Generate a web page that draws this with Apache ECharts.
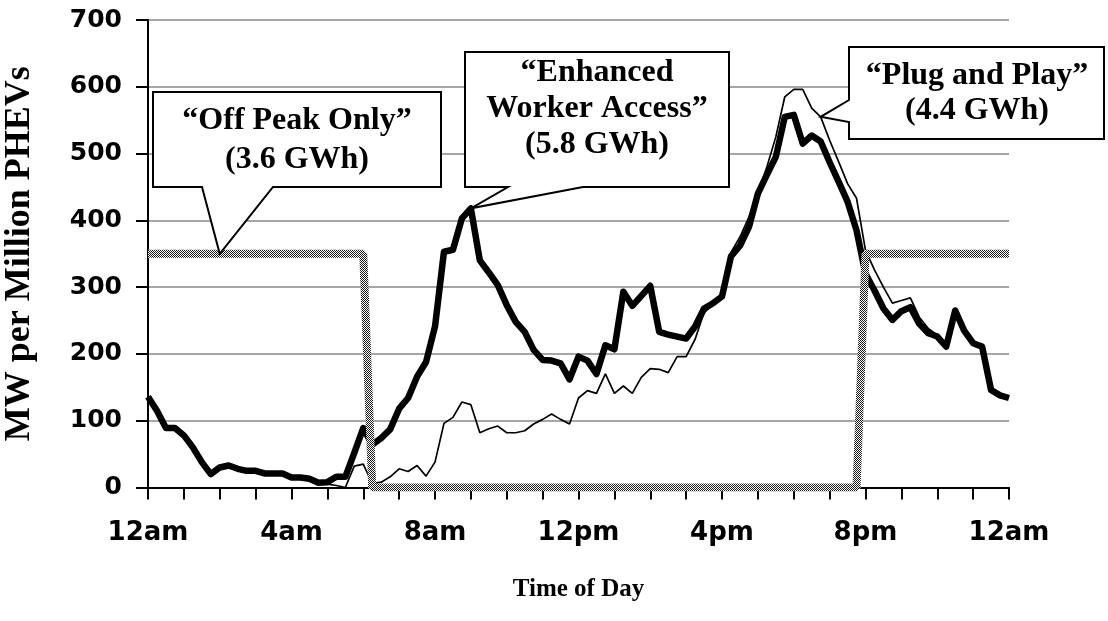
<!DOCTYPE html>
<html>
<head>
<meta charset="utf-8">
<script src="https://cdn.jsdelivr.net/npm/echarts@6/dist/echarts.min.js"></script>
<style>
  html, body { margin: 0; padding: 0; background: #fff; }
  #chart { width: 1108px; height: 621px; }
</style>
</head>
<body>
<div id="chart"></div>
<script>
// ---- data (15-minute steps from 12am to 12am) ----
const hourTickLabels = ['12am', '4am', '8am', '12pm', '4pm', '8pm', '12am'];
const yTicks = [0, 100, 200, 300, 400, 500, 600, 700];

const times = [];
for (let h = 0; h <= 24; h++) {
  for (let q = 0; q < 4; q++) {
    if (h === 24 && q > 0) break;
    times.push(String(h).padStart(2, '0') + ':' + String(q * 15).padStart(2, '0'));
  }
}

const enhancedWorkerAccess = [
  136, 115, 89, 89, 78, 60, 38, 20, 30, 33,
  28, 25, 25, 21, 21, 21, 15, 15, 13, 7,
  8, 16, 16, 52, 89, 64, 74, 87, 118, 134,
  166, 188, 241, 353, 356, 403, 418, 340, 322, 303,
  273, 248, 233, 206, 191, 190, 186, 162, 196, 190,
  170, 213, 207, 293, 272, 287, 302, 233, 229, 226,
  223, 241, 268, 276, 286, 346, 362, 390, 440, 468,
  495, 555, 558, 515, 527, 518, 487, 458, 428, 385,
  320, 295, 268, 251, 264, 270, 245, 231, 226, 211,
  265, 235, 216, 211, 146, 138, 134
];

const plugAndPlay = [
  136, 115, 89, 89, 78, 60, 38, 20, 30, 33,
  28, 25, 25, 21, 21, 21, 15, 15, 13, 7,
  5, 3, 0, 32, 35, 6, 8, 16, 28, 24,
  33, 17, 38, 96, 105, 128, 124, 82, 88, 92,
  82, 82, 85, 95, 102, 110, 102, 95, 134, 145,
  141, 170, 141, 152, 141, 165, 178, 177, 172, 196,
  196, 222, 262, 274, 288, 352, 375, 405, 440, 480,
  525, 585, 596, 596, 568, 555, 520, 488, 455, 433,
  355, 326, 300, 276, 280, 284, 255, 238, 228, 211,
  265, 235, 216, 211, 146, 138, 134
];

const offPeakOnly = [
  350, 350, 350, 350, 350, 350, 350, 350, 350, 350,
  350, 350, 350, 350, 350, 350, 350, 350, 350, 350,
  350, 350, 350, 350, 350, 0, 0, 0, 0, 0,
  0, 0, 0, 0, 0, 0, 0, 0, 0, 0,
  0, 0, 0, 0, 0, 0, 0, 0, 0, 0,
  0, 0, 0, 0, 0, 0, 0, 0, 0, 0,
  0, 0, 0, 0, 0, 0, 0, 0, 0, 0,
  0, 0, 0, 0, 0, 0, 0, 0, 0, 0,
  350, 350, 350, 350, 350, 350, 350, 350, 350, 350,
  350, 350, 350, 350, 350, 350, 350
];

const calloutTexts = {
  offPeak: '“Off Peak Only”\n(3.6 GWh)',
  enhanced: '“Enhanced\nWorker Access”\n(5.8 GWh)',
  plug: '“Plug and Play”\n(4.4 GWh)'
};

// ---- checkered pattern for the off-peak line ----
const pc = document.createElement('canvas');
pc.width = 2; pc.height = 2;
const pctx = pc.getContext('2d');
pctx.fillStyle = '#ffffff'; pctx.fillRect(0, 0, 2, 2);
pctx.fillStyle = '#1a1a1a'; pctx.fillRect(0, 0, 1, 1); pctx.fillRect(1, 1, 1, 1);
const checker = { image: pc, repeat: 'repeat' };

const chart = echarts.init(document.getElementById('chart'), null, { renderer: 'canvas' });

const axisFont = 'DejaVu Sans';
const serif = 'Liberation Serif';

chart.setOption({
  animation: false,
  backgroundColor: '#fff',
  grid: { left: 148, right: 99, top: 20, bottom: 133.5, outerBoundsMode: 'none', containLabel: false },
  xAxis: {
    type: 'category',
    data: times,
    boundaryGap: false,
    name: 'Time of Day',
    nameLocation: 'middle',
    nameGap: 90,
    nameTextStyle: { fontFamily: serif, fontWeight: 'bold', fontSize: 25, color: '#000' },
    axisLine: { show: true, lineStyle: { color: '#000', width: 2 } },
    axisTick: { show: true, interval: 3, length: 12, lineStyle: { color: '#000', width: 2 } },
    axisLabel: {
      interval: 15,
      margin: 33,
      fontFamily: axisFont, fontWeight: 'bold', fontSize: 26, color: '#000',
      formatter: (v, i) => (i % 16 === 0 ? hourTickLabels[i / 16] : '')
    },
    splitLine: { show: false }
  },
  yAxis: {
    type: 'value',
    min: yTicks[0], max: yTicks[yTicks.length - 1], interval: 100,
    name: 'MW per Million PHEVs',
    nameLocation: 'middle',
    nameGap: 110,
    nameRotate: 90,
    nameTextStyle: { fontFamily: serif, fontWeight: 'bold', fontSize: 36, color: '#000' },
    axisLine: { show: true, lineStyle: { color: '#000', width: 2 } },
    axisTick: { show: true, length: 12, lineStyle: { color: '#000', width: 2 } },
    axisLabel: { margin: 26, fontFamily: axisFont, fontWeight: 'bold', fontSize: 25, color: '#000' },
    splitLine: { show: true, lineStyle: { color: '#a6a6a6', width: 2 } }
  },
  series: [
    {
      name: 'Plug and Play', type: 'line', data: plugAndPlay,
      showSymbol: false, symbol: 'none', z: 3,
      lineStyle: { color: '#000', width: 1.7 }, itemStyle: { color: '#000' }
    },
    {
      name: 'Enhanced Worker Access', type: 'line', data: enhancedWorkerAccess,
      showSymbol: false, symbol: 'none', z: 4,
      lineStyle: { color: '#000', width: 6.5, join: 'round' }, itemStyle: { color: '#000' }
    },
    {
      name: 'Off Peak Only', type: 'line', data: offPeakOnly,
      showSymbol: false, symbol: 'none', z: 5,
      lineStyle: { color: checker, width: 8 }, itemStyle: { color: '#888' }
    }
  ]
});

// ---- callouts pointing at data through the chart's own scales ----
const tipOff = chart.convertToPixel({ gridIndex: 0 }, [8, offPeakOnly[8]]);
const tipEnh = chart.convertToPixel({ gridIndex: 0 }, [36, enhancedWorkerAccess[36]]);
const tipPlug = chart.convertToPixel({ gridIndex: 0 }, [75, plugAndPlay[75]]);

const boxStyle = { fill: '#fff', stroke: '#000', lineWidth: 2 };
const textFont = 'bold 32px "Liberation Serif"';

chart.setOption({
  graphic: [
    {
      type: 'polygon', z: 100,
      shape: { points: [[153, 92], [441, 92], [441, 187], [273, 187], tipOff, [202, 187], [153, 187]] },
      style: boxStyle
    },
    {
      type: 'text', z: 101,
      style: { text: calloutTexts.offPeak, x: 297, y: 140.5, align: 'center', verticalAlign: 'middle', font: textFont, lineHeight: 39, fill: '#000' }
    },
    {
      type: 'polygon', z: 100,
      shape: { points: [[465, 52], [729, 52], [729, 187], [583, 187], tipEnh, [508, 187], [465, 187]] },
      style: boxStyle
    },
    {
      type: 'text', z: 101,
      style: { text: calloutTexts.enhanced, x: 597, y: 109, align: 'center', verticalAlign: 'middle', font: textFont, lineHeight: 36, fill: '#000' }
    },
    {
      type: 'polygon', z: 100,
      shape: { points: [[849, 47], [1104, 47], [1104, 139], [849, 139], [849, 122], tipPlug, [849, 100]] },
      style: boxStyle
    },
    {
      type: 'text', z: 101,
      style: { text: calloutTexts.plug, x: 977, y: 93.5, align: 'center', verticalAlign: 'middle', font: textFont, lineHeight: 35, fill: '#000' }
    }
  ]
});
</script>
</body>
</html>
